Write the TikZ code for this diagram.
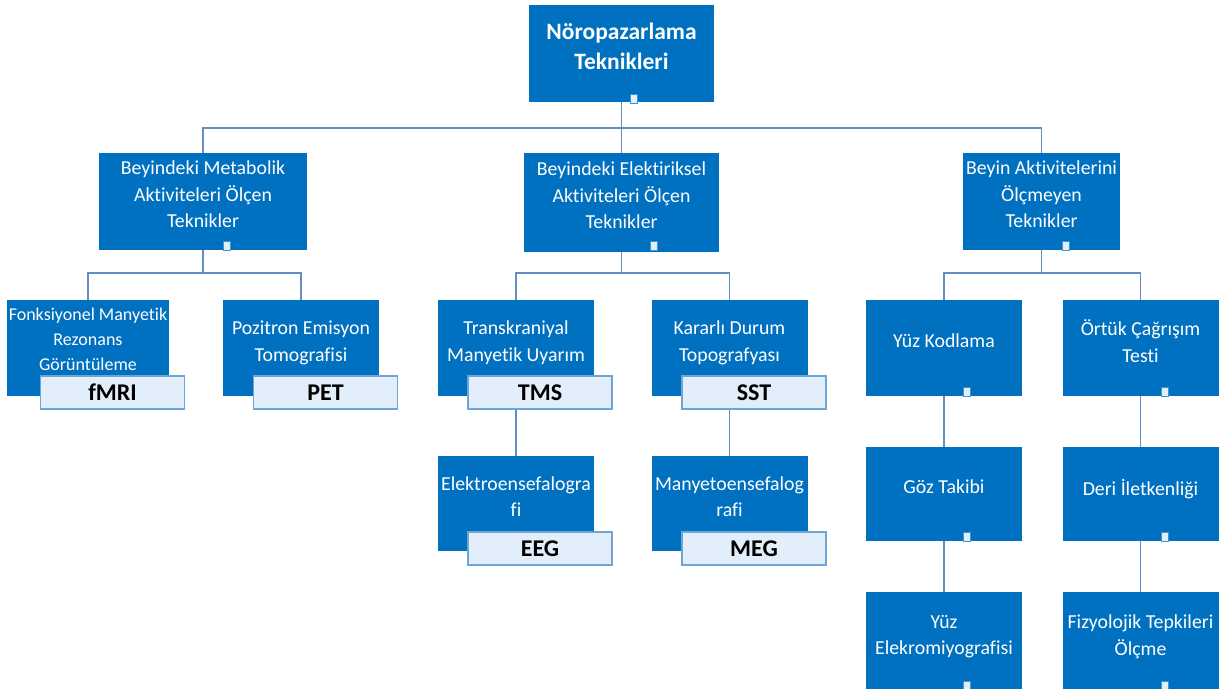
\documentclass[tikz,border=0pt]{standalone}
\usepackage{fontspec}
\setmainfont{Carlito}[Ligatures=NoCommon]
\usepackage{tikz}
\definecolor{boxblue}{RGB}{0,112,192}
\definecolor{linkblue}{RGB}{98,142,196}
\definecolor{tagline}{RGB}{110,165,215}
\definecolor{tagfill}{RGB}{226,238,249}

\begin{document}
\begin{tikzpicture}[x=1pt,y=1pt,yscale=-1,
  box/.style={rectangle,fill=boxblue,text=white,align=center,inner sep=2pt,
    minimum width=156pt,minimum height=96pt,text depth=14pt,
    font=\fontsize{19.8}{26.5}\selectfont},
  tag/.style={rectangle,draw=tagline,fill=tagfill,line width=1.6pt,
    minimum width=144pt,minimum height=33pt,inner sep=0pt,
    font=\fontsize{24}{26}\selectfont\bfseries},
  sq/.style={rectangle,draw=boxblue!75,fill=white!88!boxblue,line width=1pt,
    minimum width=7pt,minimum height=9pt,inner sep=0pt},
  link/.style={draw=linkblue,line width=1.8pt}]
\useasboundingbox[fill=white] (0,0) rectangle (1226,688);

% Top box
\node[box,minimum width=185pt,minimum height=97pt,font=\fontsize{23.5}{30}\selectfont\bfseries] (root) at (621.5,53.5) {Nöropazarlama\\Teknikleri};

% Second row
\node[box,minimum width=208pt,minimum height=97pt] (metab) at (203,201.5) {Beyindeki Metabolik\\Aktiviteleri Ölçen\\Teknikler};
\node[box,minimum width=195pt,minimum height=99pt] (elek) at (621.5,202.5) {Beyindeki Elektiriksel\\Aktiviteleri Ölçen\\Teknikler};
\node[box,minimum width=157pt,minimum height=97pt] (olc) at (1041.5,201.5) {Beyin Aktivitelerini\\Ölçmeyen\\Teknikler};

% Third row
\node[box,font=\fontsize{18}{25}\selectfont,text depth=18pt] (fmri) at (88,348) {Fonksiyonel Manyetik\\Rezonans\\Görüntüleme};
\node[box] (pet) at (301,348) {Pozitron Emisyon\\Tomografisi};
\node[box] (tms) at (516,348) {Transkraniyal\\Manyetik Uyarım};
\node[box] (sst) at (729.5,348) {Kararlı Durum\\Topografyası};
\node[box] (yuz) at (944,348) {Yüz Kodlama};
\node[box] (ortuk) at (1140.5,348) {Örtük Çağrışım\\Testi};

% Fourth row
\node[box,minimum height=95pt] (eeg) at (516,503.5) {Elektroensefalogra\\fi};
\node[box,minimum height=95pt] (meg) at (729.5,503.5) {Manyetoensefalog\\rafi};
\node[box,minimum height=94pt] (goz) at (944,494) {Göz Takibi};
\node[box,minimum height=94pt] (deri) at (1140.5,494) {Deri İletkenliği};

% Bottom row
\node[box,minimum height=100pt] (emg) at (944,642) {Yüz\\Elekromiyografisi};
\node[box,minimum height=100pt] (fizyo) at (1140.5,642) {Fizyolojik Tepkileri\\Ölçme};

% Small handles
\node[sq] (rootH) at (634,99) {};
\node[sq] (metabH) at (227,246) {};
\node[sq] (elekH) at (654,246) {};
\node[sq] (olcH) at (1066,246) {};
\node[sq] (yuzH) at (967,392) {};
\node[sq] (ortukH) at (1165,392) {};
\node[sq] (gozH) at (967,537) {};
\node[sq] (deriH) at (1165,537) {};
\node[sq] (emgH) at (967,686) {};
\node[sq] (fizyoH) at (1165,686) {};

% Connectors
\coordinate (topbus) at (0,128);
\coordinate (midbus) at (0,273);
\draw[link] (root.south) -- (elek.north);
\draw[link] (metab.north) |- (olc.north |- topbus) -- (olc.north);
\draw[link] (metab.south) -- (metab.south |- midbus);
\draw[link] (fmri.north) |- (pet.north |- midbus) -- (pet.north);
\draw[link] (elek.south) -- (elek.south |- midbus);
\draw[link] (tms.north) |- (sst.north |- midbus) -- (sst.north);
\draw[link] (olc.south) -- (olc.south |- midbus);
\draw[link] (yuz.north) |- (ortuk.north |- midbus) -- (ortuk.north);
\draw[link] (tms.south) -- (eeg.north);
\draw[link] (sst.south) -- (meg.north);
\draw[link] (yuz.south) -- (goz.north);
\draw[link] (goz.south) -- (emg.north);
\draw[link] (ortuk.south) -- (deri.north);
\draw[link] (deri.south) -- (fizyo.north);

% Abbreviation tags
\node[tag] (fmriT) at (112.5,392.5) {fMRI};
\node[tag] (petT) at (325.5,392.5) {PET};
\node[tag] (tmsT) at (540,392.5) {TMS};
\node[tag] (sstT) at (754,392.5) {SST};
\node[tag] (eegT) at (540,548.5) {EEG};
\node[tag] (megT) at (754,548.5) {MEG};

\end{tikzpicture}
\end{document}
